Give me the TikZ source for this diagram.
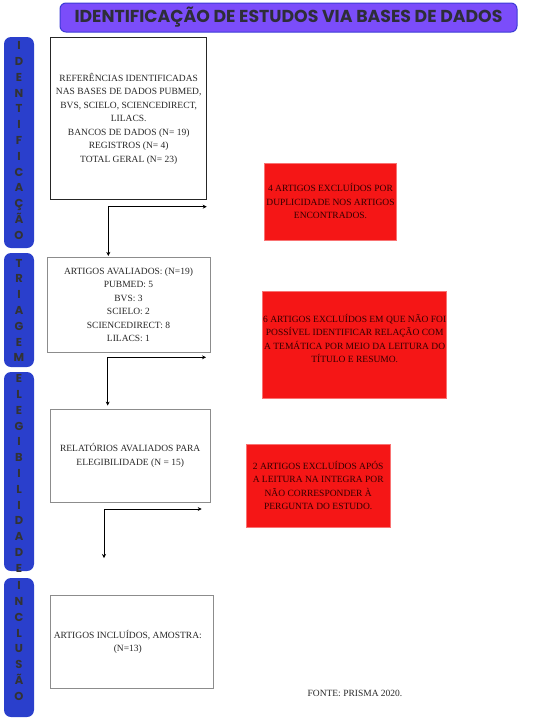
\documentclass[tikz,border=0pt]{standalone}
\usepackage{fontspec}
\setmainfont{Liberation Serif}
\newfontfamily\titlefont{Poppins}
\usepackage{xcolor}
\usetikzlibrary{arrows.meta,positioning}
\definecolor{titlefill}{HTML}{7B4DFA}
\definecolor{titleline}{HTML}{3B3BD6}
\definecolor{sideblue}{HTML}{2A3FCC}
\definecolor{darkgrey}{HTML}{2E2E38}
\definecolor{exclred}{HTML}{F51616}
\definecolor{boxgrey}{HTML}{8C8C8C}

\begin{document}
\begin{tikzpicture}[
    x = 1pt, y = -1pt,
    > = {Stealth[length=4pt,width=4pt]},
    shorten > = 1pt,
    semithick,
    titlebar/.style={rectangle, rounded corners=6pt, draw=titleline, line width=1pt,
        fill=titlefill, text=darkgrey, font=\titlefont\bfseries\fontsize{17.3}{19}\selectfont},
    sidebar/.style={rectangle, rounded corners=7pt, fill=sideblue, minimum width=30pt},
    sideletters/.style={align=center, text=black!80, inner sep=0pt,
        font=\titlefont\bfseries\fontsize{11.5}{15.8}\selectfont},
    flowbox/.style={rectangle, draw=boxgrey, line width=0.9pt, align=center,
        font=\fontsize{9.5}{13.5}\selectfont, text=black!85},
    exclbox/.style={rectangle, fill=exclred, draw=exclred!60, line width=0.5pt,
        align=center, inner sep=0pt, font=\fontsize{9.5}{13.5}\selectfont, text=black!80!red},
    note/.style={font=\fontsize{9.5}{12}\selectfont, text=black!85}
]
    \useasboundingbox (0,0) rectangle (543,721);

    % title
    \node[titlebar, minimum width=457pt, minimum height=29pt] (title) at (288.5,17.5)
        {IDENTIFICAÇÃO DE ESTUDOS VIA BASES DE DADOS};

    % phases on the left
    \node[sidebar, minimum height=211pt] (ident) at (19,142.5) {};
    \node[sideletters] (identtxt) at (19,140.5) {I\\D\\E\\N\\T\\I\\F\\I\\C\\A\\Ç\\Ã\\O};
    \node[sidebar, minimum height=114pt] (triag) at (19,310) {};
    \node[sideletters] (triagtxt) at (19,310.5) {T\\R\\I\\A\\G\\E\\M};
    \node[sidebar, minimum height=199pt] (eleg) at (19,471.5) {};
    \node[sideletters] (elegtxt) at (19,473.5) {E\\L\\E\\G\\I\\B\\I\\L\\I\\D\\A\\D\\E};
    \node[sidebar, minimum height=139pt] (incl) at (19,647.5) {};
    \node[sideletters] (incltxt) at (19,641) {I\\N\\C\\L\\U\\S\\Ã\\O};

    % boxes of the flow
    \node[flowbox, draw=black!85, minimum width=156pt, minimum height=162pt] (refs) at (128.7,118.9)
        {REFERÊNCIAS IDENTIFICADAS\\NAS BASES DE DADOS PUBMED,\\BVS, SCIELO, SCIENCEDIRECT,\\LILACS.\\
         BANCOS DE DADOS (N= 19)\\REGISTROS (N= 4)\\TOTAL GERAL (N= 23)};
    \node[flowbox, minimum width=163pt, minimum height=94.7pt] (aval) at (128.5,304.7)
        {ARTIGOS AVALIADOS: (N=19)\\PUBMED: 5\\BVS: 3\\SCIELO: 2\\SCIENCEDIRECT: 8\\LILACS: 1};
    \node[flowbox, minimum width=159.7pt, minimum height=93pt] (eleg box) at (130.2,455.5)
        {RELATÓRIOS AVALIADOS PARA\\ELEGIBILIDADE (N = 15)};
    \node[flowbox, minimum width=160.3pt, minimum height=93.3pt] (incl box) at (131.8,641.7)
        {ARTIGOS INCLUÍDOS, AMOSTRA:\hspace*{8pt}\\(N=13)\hspace*{8pt}};

    % excluded articles
    \node[exclbox, minimum width=132.4pt, minimum height=77.3pt] (excl1) at (330.5,201.4)
        {4 ARTIGOS EXCLUÍDOS POR\\DUPLICIDADE NOS ARTIGOS\\ENCONTRADOS.};
    \node[exclbox, minimum width=184pt, minimum height=106.6pt] (excl2) at (354.7,345)
        {6 ARTIGOS EXCLUÍDOS EM QUE NÃO FOI\\POSSÍVEL IDENTIFICAR RELAÇÃO COM\\
         A TEMÁTICA POR MEIO DA LEITURA DO\\TÍTULO E RESUMO.\\ \mbox{}};
    \node[exclbox, minimum width=143.7pt, minimum height=83.3pt] (excl3) at (318.2,485.7)
        {2 ARTIGOS EXCLUÍDOS APÓS\\A LEITURA NA INTEGRA POR\\NÃO CORRESPONDER À\\PERGUNTA DO ESTUDO.};

    \node[note] (fonte) at (355,693) {FONTE: PRISMA 2020.};

    % connectors
    \coordinate (c1) at (108.3,206.7);
    \coordinate (e1) at (206.7,206.7);
    \coordinate (c2) at (107.7,357.3);
    \coordinate (e2) at (206,357.3);
    \coordinate (c3) at (104,509);
    \coordinate (e3) at (201.7,509);
    \coordinate (d3) at (104,559);

    \draw[<->] (e1) -- (c1) -- (c1 |- aval.north);
    \draw[<->, shorten > = 3pt] (e2) -- (c2) -- (c2 |- eleg box.north);
    \draw[<->] (e3) -- (c3) -- (d3);
\end{tikzpicture}
\end{document}
